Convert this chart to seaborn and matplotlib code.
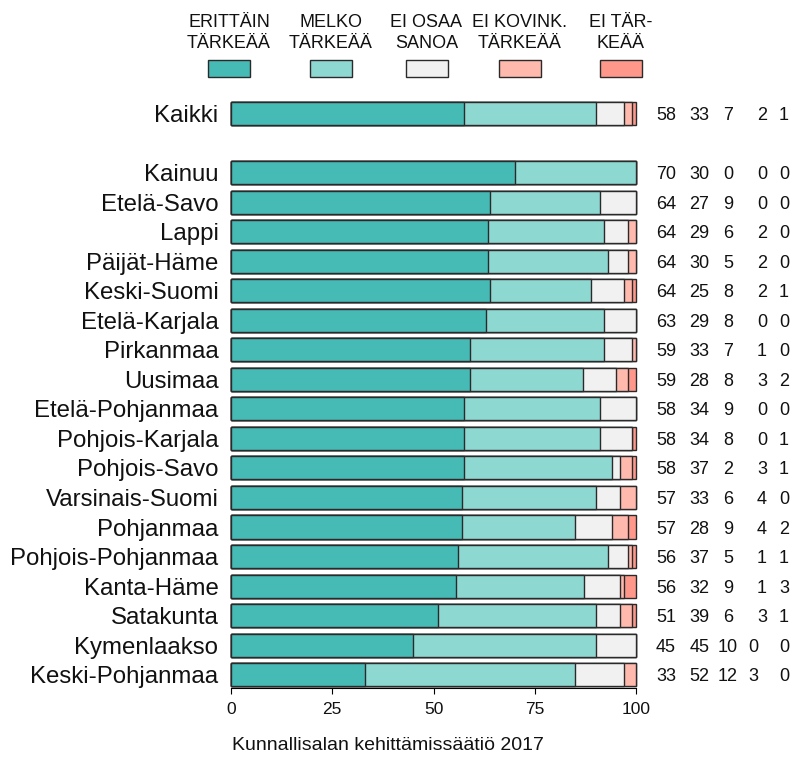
import numpy as np
import pandas as pd
import seaborn as sns
import matplotlib
matplotlib.use("Agg")
import matplotlib.pyplot as plt
from matplotlib.patches import Rectangle
from matplotlib.transforms import blended_transform_factory

# ---------------- data ----------------
regions = ["Kaikki", "Kainuu", "Etelä-Savo", "Lappi", "Päijät-Häme", "Keski-Suomi",
           "Etelä-Karjala", "Pirkanmaa", "Uusimaa", "Etelä-Pohjanmaa", "Pohjois-Karjala",
           "Pohjois-Savo", "Varsinais-Suomi", "Pohjanmaa", "Pohjois-Pohjanmaa",
           "Kanta-Häme", "Satakunta", "Kymenlaakso", "Keski-Pohjanmaa"]
erittain = [58, 70, 64, 64, 64, 64, 63, 59, 59, 58, 58, 58, 57, 57, 56, 56, 51, 45, 33]
melko    = [33, 30, 27, 29, 30, 25, 29, 33, 28, 34, 34, 37, 33, 28, 37, 32, 39, 45, 52]
ei_osaa  = [7, 0, 9, 6, 5, 8, 8, 7, 8, 9, 8, 2, 6, 9, 5, 9, 6, 10, 12]
ei_kovin = [2, 0, 0, 2, 2, 2, 0, 1, 3, 0, 0, 3, 4, 4, 1, 1, 3, 0, 3]
ei_tark  = [1, 0, 0, 0, 0, 1, 0, 0, 2, 0, 1, 1, 0, 2, 1, 3, 1, 0, 0]

legend_lines = [("ERITTÄIN", "TÄRKEÄÄ"), ("MELKO", "TÄRKEÄÄ"), ("EI OSAA", "SANOA"),
                ("EI KOVINK.", "TÄRKEÄÄ"), ("EI TÄR-", "KEÄÄ")]
colors = ["#46BAB5", "#8ED8D2", "#F1F1F1", "#FFB9AD", "#FF988A"]
xticks = [0, 25, 50, 75, 100]
caption = "Kunnallisalan kehittämissäätiö 2017"

# ---------------- table ----------------
series = [erittain, melko, ei_osaa, ei_kovin, ei_tark]
positions = [0] + list(range(2, 2 + len(regions) - 1))
df = pd.DataFrame({"region": regions, "pos": positions})
vals = np.array(series, dtype=float).T
pct = vals / vals.sum(axis=1, keepdims=True) * 100
cum = np.cumsum(pct, axis=1)
for k in range(5):
    df[f"cum{k}"] = cum[:, k]

# ---------------- figure ----------------
sns.set_style("ticks")
plt.rcParams["font.family"] = ["Liberation Sans", "DejaVu Sans"]
TXT = "#111111"

W, H = 793, 762
fig = plt.figure(figsize=(W / 100, H / 100), dpi=100)
ax_left, ax_right = 231 / W, 636 / W
ax_top, ax_bot = 1 - 98.7 / H, 1 - 688 / H
ax = fig.add_axes([ax_left, ax_bot, ax_right - ax_left, ax_top - ax_bot])

for k in range(4, -1, -1):
    sns.barplot(data=df, x=f"cum{k}", y="pos", orient="h", native_scale=True,
                color=colors[k], saturation=1, edgecolor="#2a2a2a", linewidth=1.0,
                width=0.78, errorbar=None, ax=ax)
for p in ax.patches:
    p.set_clip_on(False)

ax.set_xlim(0, 100)
ax.set_ylim(19.45, -0.5)
ax.set_yticks(positions)
ax.set_yticklabels(regions, fontsize=17.3, color=TXT)
ax.set_xticks(xticks)
ax.set_xticklabels([str(t) for t in xticks], fontsize=12.5, color=TXT)
ax.tick_params(axis="y", length=0, pad=9)
ax.tick_params(axis="x", length=4.3, width=0.8, color="black", pad=6)
ax.set_xlabel("")
ax.set_ylabel("")
for s in ["left", "right", "top"]:
    ax.spines[s].set_visible(False)
ax.spines["bottom"].set_bounds(0, 100)
ax.spines["bottom"].set_linewidth(0.8)
ax.spines["bottom"].set_color("black")

# numbers at right
tr = blended_transform_factory(fig.transFigure, ax.transData)
for i, p in enumerate(positions):
    c = [erittain[i], melko[i], ei_osaa[i], ei_kovin[i], ei_tark[i]]
    xs = [666, 699.5, 728, 753 if c[2] >= 10 else 762, 784]
    for xv, v in zip(xs, c):
        ax.text(xv / W, p, str(v), transform=tr, ha="center", va="center_baseline",
                fontsize=13, color=TXT, clip_on=False)

# legend
centers = [229, 331, 426.5, 520, 621]
for cx, (l1, l2), col in zip(centers, legend_lines, colors):
    fig.text(cx / W, 1 - 26.7 / H, l1, ha="center", va="baseline", fontsize=13, color=TXT)
    fig.text(cx / W, 1 - 48.3 / H, l2, ha="center", va="baseline", fontsize=13, color=TXT)
    fig.add_artist(Rectangle(((cx - 21) / W, 1 - 77 / H), 42 / W, 17 / H,
                             transform=fig.transFigure, facecolor=col,
                             edgecolor="#2a2a2a", linewidth=1.0))

fig.text(232 / W, 1 - 745 / H, caption, ha="left", va="center", fontsize=14, color=TXT)

fig.savefig("out.png", dpi=100)
